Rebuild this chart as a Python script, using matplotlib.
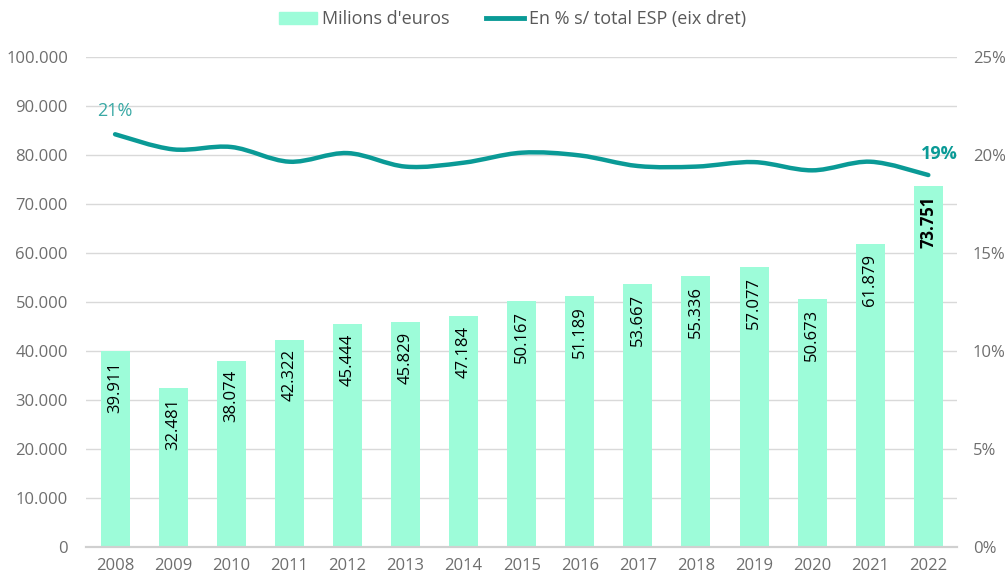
import matplotlib.pyplot as plt
import matplotlib.ticker as mticker
from matplotlib.path import Path
from matplotlib.patches import PathPatch
from matplotlib.lines import Line2D
from matplotlib.patches import Patch

plt.rcParams['font.family'] = ['Open Sans', 'DejaVu Sans']

# Dades
anys = ['2008', '2009', '2010', '2011', '2012', '2013', '2014', '2015',
        '2016', '2017', '2018', '2019', '2020', '2021', '2022']
milions = [39911, 32481, 38074, 42322, 45444, 45829, 47184, 50167,
           51189, 53667, 55336, 57077, 50673, 61879, 73751]
percent = [21.06, 20.29, 20.41, 19.66, 20.10, 19.41, 19.61, 20.12,
           19.98, 19.44, 19.41, 19.64, 19.22, 19.66, 18.98]

bar_color = '#9dfcd9'
line_color = '#0a9a96'
grey = '#6e6e6e'


def fmt_miles(v):
    return f'{int(v):,}'.replace(',', '.')


def smooth_path(xs, ys):
    # corba suau tipus Excel (Catmull-Rom -> Bezier)
    verts = [(xs[0], ys[0])]
    codes = [Path.MOVETO]
    n = len(xs)
    for i in range(n - 1):
        x0, y0 = (xs[i - 1], ys[i - 1]) if i > 0 else (xs[i], ys[i])
        x1, y1 = xs[i], ys[i]
        x2, y2 = xs[i + 1], ys[i + 1]
        x3, y3 = (xs[i + 2], ys[i + 2]) if i + 2 < n else (x2, y2)
        c1 = (x1 + (x2 - x0) / 6, y1 + (y2 - y0) / 6)
        c2 = (x2 - (x3 - x1) / 6, y2 - (y3 - y1) / 6)
        verts += [c1, c2, (x2, y2)]
        codes += [Path.CURVE4] * 3
    return Path(verts, codes)


fig = plt.figure(figsize=(10.05, 5.82), dpi=100)
ax = fig.add_axes([0.0856, 0.060, 0.867, 0.842])
ax2 = ax.twinx()

x = list(range(len(anys)))
ax.bar(x, milions, width=0.5, color=bar_color, zorder=2)

for i, v in enumerate(milions):
    ax.annotate(fmt_miles(v), (i, v), xytext=(0, -7), textcoords='offset points',
                rotation=90, ha='center', va='top', fontsize=12, color='black',
                fontweight='bold' if i == len(milions) - 1 else 'normal', zorder=4)

ax.set_ylim(0, 100000)
ax.set_xlim(-0.5, len(anys) - 0.5)
ax.set_yticks(range(0, 100001, 10000))
ax.yaxis.set_major_formatter(mticker.FuncFormatter(lambda v, p: fmt_miles(v)))
ax.set_xticks(x)
ax.set_xticklabels(anys)
ax.grid(axis='y', color='#d9d9d9', linewidth=1, zorder=0)
ax.set_axisbelow(True)

for a in (ax, ax2):
    for s in ['top', 'left', 'right']:
        a.spines[s].set_visible(False)
    a.spines['bottom'].set_color('#d0d0d0')
    a.spines['bottom'].set_linewidth(1.5)
    a.tick_params(length=0, labelsize=12, colors=grey)
ax.tick_params(axis='x', pad=8)
ax.tick_params(axis='y', pad=13)
ax2.tick_params(axis='y', pad=11)

ax2.set_ylim(0, 25)
ax2.set_yticks(range(0, 26, 5))
ax2.yaxis.set_major_formatter(mticker.FuncFormatter(lambda v, p: f'{int(v)}%'))

ax2.add_patch(PathPatch(smooth_path(x, percent), facecolor='none',
                        edgecolor=line_color, linewidth=3.2, capstyle='round',
                        zorder=3))

ax2.annotate('21%', (x[0], percent[0]), xytext=(0, 10), textcoords='offset points',
             ha='center', va='bottom', fontsize=13, color='#3aa9a5')
ax2.annotate('19%', (x[-1], percent[-1]), xytext=(8, 9), textcoords='offset points',
             ha='center', va='bottom', fontsize=13, color=line_color, fontweight='bold')

handles = [Patch(color=bar_color), Line2D([0], [0], color=line_color, linewidth=3.5)]
fig.legend(handles, ["Milions d'euros", 'En % s/ total ESP (eix dret)'],
           loc='upper center', bbox_to_anchor=(0.51, 1.01), ncol=2, frameon=False,
           fontsize=13, labelcolor='#595959', handlelength=2.1, columnspacing=2.0,
           handletextpad=0.3)

fig.savefig('out.png', dpi=100)
